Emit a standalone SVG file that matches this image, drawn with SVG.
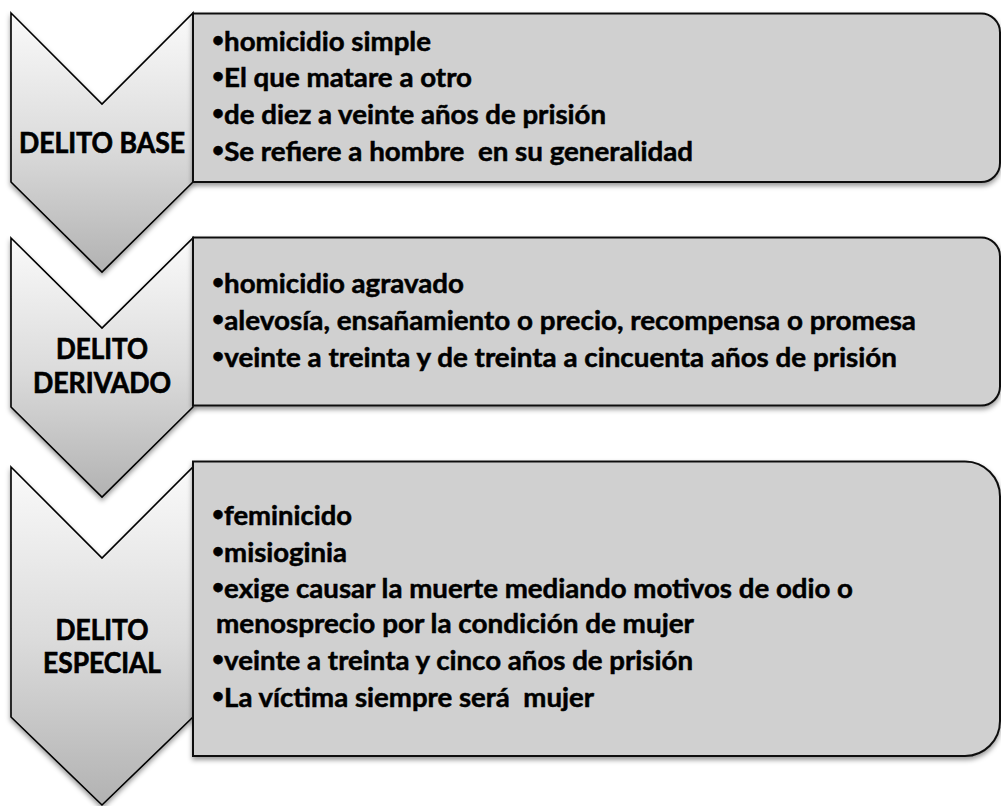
<svg xmlns="http://www.w3.org/2000/svg" width="1001" height="806" viewBox="0 0 1001 806">
<defs>
<linearGradient id="chevGrad" x1="0" y1="0" x2="0" y2="1">
<stop offset="0" stop-color="#fafafa"/>
<stop offset="0.5" stop-color="#dcdcdc"/>
<stop offset="1" stop-color="#b2b2b2"/>
</linearGradient>
<filter id="shadow" x="-10%" y="-10%" width="120%" height="125%">
<feDropShadow dx="0" dy="3" stdDeviation="2.5" flood-color="#000" flood-opacity="0.4"/>
</filter>
</defs>
<style>
.chev{fill:url(#chevGrad);stroke:#000;stroke-width:1.6;stroke-linejoin:miter;filter:url(#shadow)}
.box{fill:#d0d0d0;stroke:#111;stroke-width:2;filter:url(#shadow)}
.lbl{font-family:Lato,"Liberation Sans",sans-serif;font-weight:bold;font-size:29px;fill:#000;stroke:#000;stroke-width:0.7;text-anchor:middle}
.txt{font-family:Lato,"Liberation Sans",sans-serif;font-weight:bold;font-size:26.5px;fill:#000;stroke:#000;stroke-width:0.5;white-space:pre}
.b{font-size:20px}
</style>
<rect width="1001" height="806" fill="#fff"/>
<g id="connectors"/>
<g id="chevron-base">
<path class="chev" d="M11,13 L102,104 L193,13 L193,182 L102,272 L11,182 Z"/>
<text class="lbl" x="102" y="153" textLength="166" lengthAdjust="spacingAndGlyphs">DELITO BASE</text>
</g>
<g id="chevron-derivado">
<path class="chev" d="M11,238 L102,328 L193,238 L193,407 L102,497 L11,407 Z"/>
<text class="lbl" x="102" y="359" textLength="92" lengthAdjust="spacingAndGlyphs">DELITO</text>
<text class="lbl" x="102" y="393" textLength="138" lengthAdjust="spacingAndGlyphs">DERIVADO</text>
</g>
<g id="chevron-especial">
<path class="chev" d="M11,467 L102,558 L193,467 L193,717 L102,805 L11,717 Z"/>
<text class="lbl" x="102" y="640" textLength="93" lengthAdjust="spacingAndGlyphs">DELITO</text>
<text class="lbl" x="102" y="673" textLength="118" lengthAdjust="spacingAndGlyphs">ESPECIAL</text>
</g>
<g id="box-base">
<path class="box" d="M193,13.5 H981 A19,19 0 0 1 1000,32.5 V163 A19,19 0 0 1 981,182 H193 Z"/>
<text class="txt" x="212" y="50.5" textLength="219" lengthAdjust="spacingAndGlyphs"><tspan class="b" dy="-4">•</tspan><tspan dy="4">homicidio simple</tspan></text>
<text class="txt" x="212" y="87.3" textLength="260" lengthAdjust="spacingAndGlyphs"><tspan class="b" dy="-4">•</tspan><tspan dy="4">El que matare a otro</tspan></text>
<text class="txt" x="212" y="124.1" textLength="394" lengthAdjust="spacingAndGlyphs"><tspan class="b" dy="-4">•</tspan><tspan dy="4">de diez a veinte años de prisión</tspan></text>
<text class="txt" x="212" y="160.9" textLength="481" lengthAdjust="spacingAndGlyphs" xml:space="preserve"><tspan class="b" dy="-4">•</tspan><tspan dy="4">Se refiere a hombre  en su generalidad</tspan></text>
</g>
<g id="box-derivado">
<path class="box" d="M193,237.5 H981 A19,19 0 0 1 1000,256.5 V386.5 A19,19 0 0 1 981,405.5 H193 Z"/>
<text class="txt" x="212" y="293" textLength="252" lengthAdjust="spacingAndGlyphs"><tspan class="b" dy="-4">•</tspan><tspan dy="4">homicidio agravado</tspan></text>
<text class="txt" x="212" y="330" textLength="704" lengthAdjust="spacingAndGlyphs"><tspan class="b" dy="-4">•</tspan><tspan dy="4">alevosía, ensañamiento o precio, recompensa o promesa</tspan></text>
<text class="txt" x="212" y="367" textLength="685" lengthAdjust="spacingAndGlyphs"><tspan class="b" dy="-4">•</tspan><tspan dy="4">veinte a treinta y de treinta a cincuenta años de prisión</tspan></text>
</g>
<g id="box-especial">
<path class="box" d="M193,461.5 H965 A35,35 0 0 1 1000,496.5 V721 A35,35 0 0 1 965,756 H193 Z"/>
<text class="txt" x="212" y="525" textLength="140" lengthAdjust="spacingAndGlyphs"><tspan class="b" dy="-4">•</tspan><tspan dy="4">feminicido</tspan></text>
<text class="txt" x="212" y="561.7" textLength="135" lengthAdjust="spacingAndGlyphs"><tspan class="b" dy="-4">•</tspan><tspan dy="4">misioginia</tspan></text>
<text class="txt" x="212" y="598.3" textLength="641" lengthAdjust="spacingAndGlyphs"><tspan class="b" dy="-4">•</tspan><tspan dy="4">exige causar la muerte mediando motivos de odio o</tspan></text>
<text class="txt" x="216" y="633.3" textLength="478" lengthAdjust="spacingAndGlyphs">menosprecio por la condición de mujer</text>
<text class="txt" x="212" y="670" textLength="481" lengthAdjust="spacingAndGlyphs"><tspan class="b" dy="-4">•</tspan><tspan dy="4">veinte a treinta y cinco años de prisión</tspan></text>
<text class="txt" x="212" y="707" textLength="382" lengthAdjust="spacingAndGlyphs" xml:space="preserve"><tspan class="b" dy="-4">•</tspan><tspan dy="4">La víctima siempre será  mujer</tspan></text>
</g>
</svg>
